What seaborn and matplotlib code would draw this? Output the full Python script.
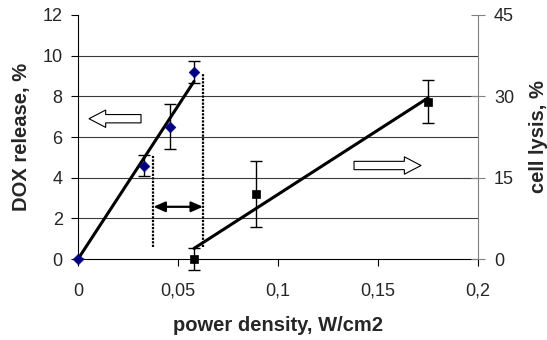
import numpy as np
import matplotlib
matplotlib.use("Agg")
import matplotlib.pyplot as plt
import seaborn as sns

# DOX release (left axis)
dox_power = [0.0, 0.033, 0.046, 0.058]
dox_release = [0.0, 4.6, 6.5, 9.2]
dox_err = [0.0, 0.5, 1.1, 0.55]

# cell lysis (right axis)
lysis_power = [0.058, 0.089, 0.175]
lysis = [0.0, 12.0, 29.0]
lysis_err = [2.0, 6.0, 4.0]

x_ticks = [0, 0.05, 0.1, 0.15, 0.2]
x_tick_labels = ["0", "0,05", "0,1", "0,15", "0,2"]
left_ticks = [0, 2, 4, 6, 8, 10, 12]
right_ticks = [0, 15, 30, 45]

# window between the two dotted lines
window = [0.0377, 0.0625]

sns.set_style("white")
plt.rcParams["font.family"] = ["Liberation Sans", "DejaVu Sans"]

fig = plt.figure(figsize=(5.47, 3.40), dpi=100)
ax = fig.add_axes([0.1426, 0.238, 0.7313, 0.718])
ax2 = ax.twinx()

# grid lines
for yv in left_ticks[1:-1]:
    ax.axhline(yv, color="#3a3a3a", lw=0.8, zorder=0)

# linear fits
k1, b1 = np.polyfit(dox_power, dox_release, 1)
fx1 = np.array([0.0, max(dox_power)])
sns.lineplot(x=fx1, y=np.clip(k1 * fx1 + b1, 0, None), ax=ax, color="black", lw=2.2, zorder=3)

k2, b2 = np.polyfit(lysis_power, lysis, 1)
fx2 = np.array([min(lysis_power), max(lysis_power)])
sns.lineplot(x=fx2, y=k2 * fx2 + b2, ax=ax2, color="black", lw=2.2, zorder=3)

# error bars and points
ax.errorbar(dox_power, dox_release, yerr=dox_err, fmt="none", ecolor="black",
            elinewidth=1, capsize=4, capthick=1, zorder=4)
sns.scatterplot(x=dox_power, y=dox_release, ax=ax, marker="D", s=30,
                color="#000080", edgecolor="#000080", zorder=5, clip_on=False)

ax2.errorbar(lysis_power, lysis, yerr=lysis_err, fmt="none", ecolor="black",
             elinewidth=1, capsize=4, capthick=1, zorder=4, clip_on=False)
sns.scatterplot(x=lysis_power, y=lysis, ax=ax2, marker="s", s=40,
                color="black", edgecolor="black", zorder=5, clip_on=False)

# dotted window lines and double arrow
ax.plot([window[0], window[0]], [0.6, 5.1], color="black", lw=1.6, ls=(0, (1, 0.6)), zorder=3)
ax.plot([window[1], window[1]], [0.6, 9.15], color="black", lw=1.6, ls=(0, (1, 0.6)), zorder=3)
ax.annotate("", xy=(window[0], 2.57), xytext=(window[1], 2.57),
            arrowprops=dict(arrowstyle="<|-|>,head_length=0.5,head_width=0.22", color="black",
                            lw=1.6, mutation_scale=14, shrinkA=0, shrinkB=0))

# hollow block arrows
block = "simple,head_length=1.2,head_width=1.25,tail_width=0.6"
ax.annotate("", xy=(0.0055, 6.9), xytext=(0.0315, 6.9),
            arrowprops=dict(arrowstyle=block, mutation_scale=10,
                            fc="white", ec="black", lw=0.8, shrinkA=0, shrinkB=0))
ax.annotate("", xy=(0.1715, 4.6), xytext=(0.138, 4.6),
            arrowprops=dict(arrowstyle=block, mutation_scale=10,
                            fc="white", ec="black", lw=0.8, shrinkA=0, shrinkB=0))

# axes styling
ax.set_xlim(0, 0.2)
ax.set_ylim(0, 12)
ax2.set_ylim(0, 45)
ax.set_xticks(x_ticks)
ax.set_xticklabels(x_tick_labels)
ax.set_yticks(left_ticks)
ax2.set_yticks(right_ticks)

for a in (ax, ax2):
    a.spines["top"].set_visible(False)
ax.spines["right"].set_visible(False)
ax2.spines["left"].set_visible(False)
ax2.spines["bottom"].set_visible(False)
ax.spines["left"].set_color("black")
ax.spines["bottom"].set_color("black")
ax2.spines["right"].set_color("#808080")

ax.tick_params(axis="both", labelsize=13, length=5, width=0.8, direction="out", color="black",
               left=True, bottom=True)
ax.tick_params(axis="x", pad=12)
ax.tick_params(axis="y", pad=6)
ax2.tick_params(axis="y", labelsize=13, length=10, width=0.8, direction="inout", color="#808080",
                right=True, pad=6.5)

ax.set_xlabel("power density, W/cm2", fontsize=14.5, fontweight="bold", labelpad=12)
ax.set_ylabel("DOX release, %", fontsize=14.5, fontweight="bold", labelpad=8)
ax2.set_ylabel("cell lysis, %", fontsize=14.5, fontweight="bold", labelpad=10.5)

fig.savefig("out.png", dpi=100)
